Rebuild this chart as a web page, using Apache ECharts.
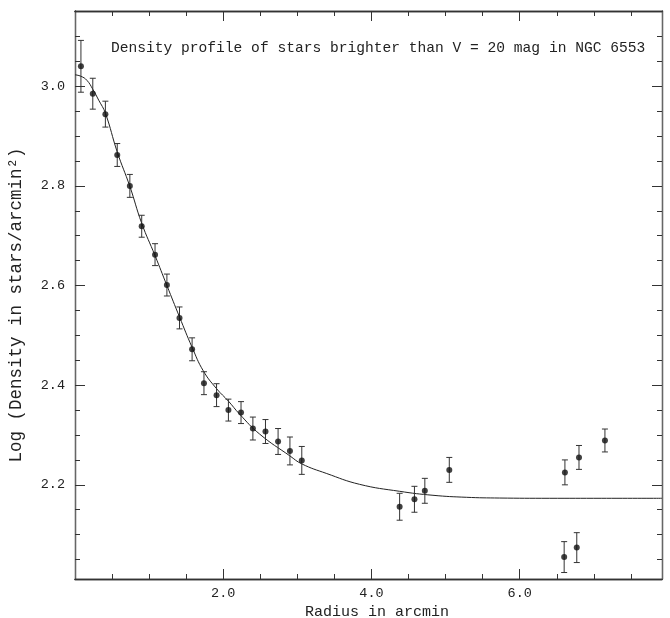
<!DOCTYPE html>
<html>
<head>
<meta charset="utf-8">
<script src="https://cdn.jsdelivr.net/npm/echarts@6/dist/echarts.min.js"></script>
<style>html,body{margin:0;padding:0;background:#fff}#c{width:670px;height:618px}</style>
</head>
<body>
<div id="c"></div>
<script>
// ---- data ----
var radius = [0.08,0.24,0.41,0.57,0.74,0.90,1.08,1.24,1.41,1.58,1.74,1.91,2.07,2.24,2.40,2.57,2.74,2.90,3.06,4.38,4.58,4.72,5.05,6.60,6.61,6.77,6.80,7.15];
var logDensity = [3.040,2.985,2.944,2.862,2.800,2.719,2.662,2.601,2.535,2.472,2.404,2.380,2.350,2.345,2.313,2.307,2.287,2.268,2.249,2.156,2.171,2.188,2.230,2.055,2.225,2.074,2.255,2.289];
var errors = [0.052,0.031,0.026,0.023,0.023,0.022,0.022,0.022,0.022,0.023,0.023,0.023,0.022,0.022,0.023,0.024,0.026,0.028,0.028,0.027,0.026,0.025,0.025,0.031,0.025,0.030,0.024,0.023];
var fitRadius = [0,0.08,0.16,0.24,0.32,0.41,0.57,0.74,0.90,1.08,1.24,1.41,1.58,1.73,1.91,2.07,2.22,2.49,2.90,3.06,3.39,3.84,4.38,4.83,5.28,5.73,6.40,7.10,7.92];
var fitLog = [3.023,3.020,3.012,2.994,2.972,2.946,2.868,2.799,2.725,2.660,2.600,2.537,2.476,2.429,2.393,2.368,2.342,2.302,2.258,2.242,2.223,2.201,2.187,2.179,2.175,2.1735,2.173,2.173,2.173];
var xMajorTicks = [2, 4, 6];
var xMinorTicks = [0.5,1,1.5,2.5,3,3.5,4.5,5,5.5,6.5,7,7.5];
var yMajorTicks = [2.2, 2.4, 2.6, 2.8, 3.0];
var yMinorTicks = [2.05,2.1,2.15,2.25,2.3,2.35,2.45,2.5,2.55,2.65,2.7,2.75,2.85,2.9,2.95,3.05,3.1];
var titleText = 'Density profile of stars brighter than V = 20 mag in NGC 6553';
var xName = 'Radius in arcmin';
var yName = 'Log (Density in stars/arcmin\u00b2)';

var FONT = 'Liberation Mono';
var INK = '#222';
var X_MIN = 0, X_MAX = 7.92, Y_MIN = 2.011, Y_MAX = 3.151;

function xAx(pos, ticks, len, labels, extra) {
  var a = {
    type: 'value', position: pos, min: X_MIN, max: X_MAX,
    axisLine: {show: true, onZero: false, lineStyle: {color: '#333', width: 1.3}},
    axisTick: {show: true, inside: true, length: len, customValues: ticks, lineStyle: {color: '#333', width: 1}},
    axisLabel: labels ? {show: true, customValues: ticks, formatter: function (v) { return v.toFixed(1); },
      fontFamily: FONT, fontSize: 13.5, color: INK, margin: 7} : {show: false},
    splitLine: {show: false}
  };
  for (var k in extra) a[k] = extra[k];
  return a;
}
function yAx(pos, ticks, len, labels, extra) {
  var a = {
    type: 'value', position: pos, min: Y_MIN, max: Y_MAX,
    axisLine: {show: true, onZero: false, lineStyle: {color: '#666', width: 1.3}},
    axisTick: {show: true, inside: true, length: len, customValues: ticks, lineStyle: {color: '#333', width: 1}},
    axisLabel: labels ? {show: true, customValues: ticks, formatter: function (v) { return v.toFixed(1); },
      fontFamily: FONT, fontSize: 13.5, color: INK, margin: 10} : {show: false},
    splitLine: {show: false}
  };
  for (var k in extra) a[k] = extra[k];
  return a;
}

var points = radius.map(function (r, i) { return [r, logDensity[i], errors[i]]; });
var fit = fitRadius.map(function (r, i) { return [r, fitLog[i]]; });

var chart = echarts.init(document.getElementById('c'), null, {renderer: 'canvas'});
chart.setOption({
  backgroundColor: '#fff',
  animation: false,
  title: {
    text: titleText, left: 106, top: 36,
    textStyle: {fontFamily: FONT, fontSize: 14.6, fontWeight: 'normal', color: INK}
  },
  grid: {left: 75, top: 11, right: 8, bottom: 39, containLabel: false, outerBoundsMode: 'none'},
  xAxis: [
    xAx('bottom', xMajorTicks, 10, true, {name: xName, nameLocation: 'middle', nameGap: 24,
      nameTextStyle: {fontFamily: FONT, fontSize: 15, color: INK, padding: [0, 0, 0, 17]}}),
    xAx('bottom', xMinorTicks, 5, false, {}),
    xAx('top', xMajorTicks, 10, false, {}),
    xAx('top', xMinorTicks, 5, false, {})
  ],
  yAxis: [
    yAx('left', yMajorTicks, 10, true, {name: yName, nameLocation: 'middle', nameGap: 50,
      nameTextStyle: {fontFamily: FONT, fontSize: 17.5, color: INK, padding: [0, 20, 0, 0]}}),
    yAx('left', yMinorTicks, 5, false, {}),
    yAx('right', yMajorTicks, 10, false, {}),
    yAx('right', yMinorTicks, 5, false, {})
  ],
  series: [
    {
      type: 'line', data: fit, smooth: 0.45, showSymbol: false, symbol: 'none',
      lineStyle: {color: '#222', width: 1}, z: 2
    },
    {
      type: 'custom', z: 3,
      data: points,
      renderItem: function (params, api) {
        var x = api.value(0), y = api.value(1), e = api.value(2);
        var top = api.coord([x, y + e]);
        var bot = api.coord([x, y - e]);
        var c = 3;
        var st = {stroke: '#333', lineWidth: 1};
        return {
          type: 'group',
          children: [
            {type: 'line', shape: {x1: top[0], y1: top[1], x2: bot[0], y2: bot[1]}, style: st},
            {type: 'line', shape: {x1: top[0] - c, y1: top[1], x2: top[0] + c, y2: top[1]}, style: st},
            {type: 'line', shape: {x1: bot[0] - c, y1: bot[1], x2: bot[0] + c, y2: bot[1]}, style: st}
          ]
        };
      }
    },
    {
      type: 'scatter', data: points, symbol: 'circle', symbolSize: 6,
      itemStyle: {color: '#111'}, z: 4
    }
  ]
});
</script>
</body>
</html>
